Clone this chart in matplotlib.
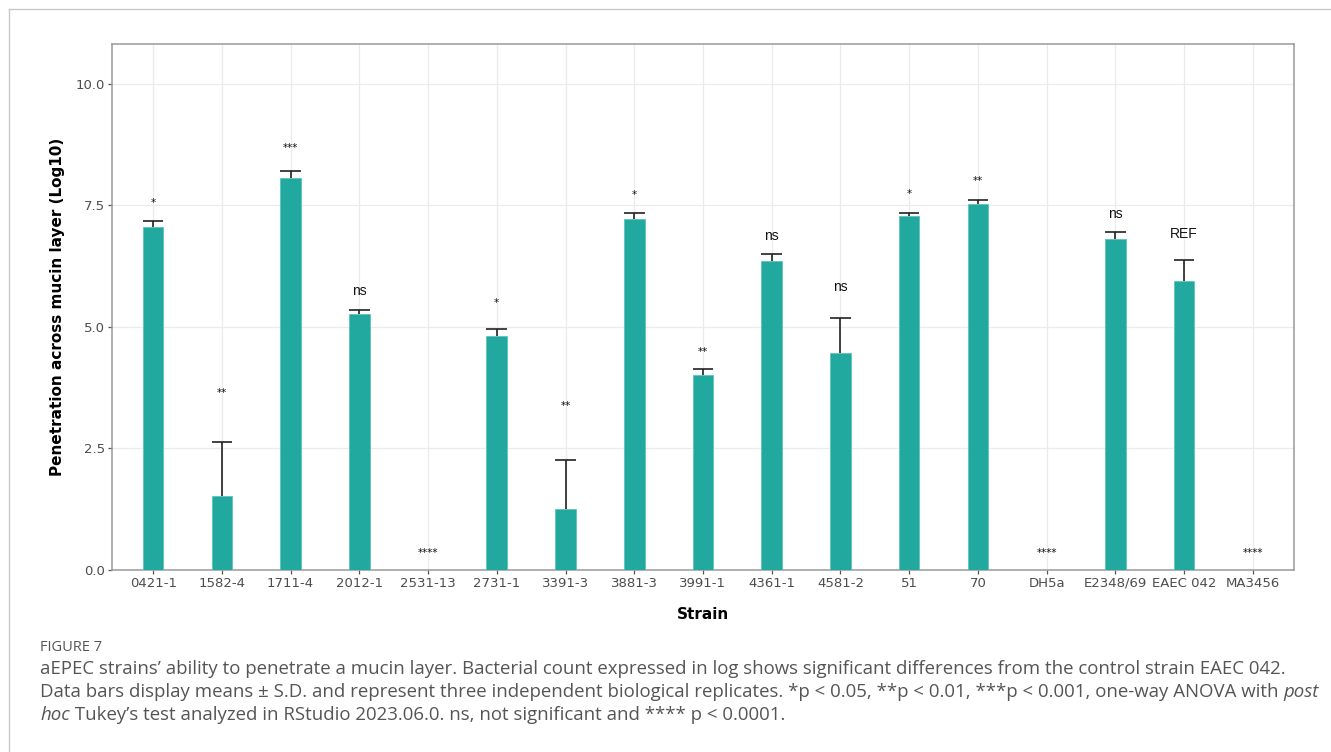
import matplotlib.pyplot as plt
import numpy as np

# Mean penetration (log10) and S.D. per strain
strains = ["0421-1", "1582-4", "1711-4", "2012-1", "2531-13", "2731-1",
           "3391-3", "3881-3", "3991-1", "4361-1", "4581-2", "51", "70",
           "DH5a", "E2348/69", "EAEC 042", "MA3456"]
means = [7.06, 1.52, 8.07, 5.27, 0.0, 4.81, 1.26, 7.22, 4.01, 6.36,
         4.47, 7.28, 7.53, 0.0, 6.81, 5.95, 0.0]
sds = [0.12, 1.11, 0.14, 0.08, 0.0, 0.15, 1.00, 0.13, 0.13, 0.14,
       0.72, 0.07, 0.08, 0.0, 0.14, 0.43, 0.0]
signif = ["*", "**", "***", "ns", "****", "*", "**", "*", "**", "ns",
          "ns", "*", "**", "****", "ns", "REF", "****"]
label_y = [7.55, 3.64, 8.68, 5.74, 0.35, 5.49, 3.37, 7.72, 4.49, 6.87,
           5.82, 7.74, 8.00, 0.35, 7.33, 6.91, 0.35]

caption_title = "FIGURE 7"
caption_lines = [
    "aEPEC strains\u2019 ability to penetrate a mucin layer. Bacterial count expressed in log shows significant differences from the control strain EAEC 042.",
    "Data bars display means \u00b1 S.D. and represent three independent biological replicates. *p < 0.05, **p < 0.01, ***p < 0.001, one-way ANOVA with ",
    " Tukey\u2019s test analyzed in RStudio 2023.06.0. ns, not significant and **** p < 0.0001.",
]

BAR = "#21a99f"
GRID = "#ebebeb"
BAR_W = 0.3

fig = plt.figure(figsize=(13.31, 7.52), dpi=100)
ax = fig.add_axes([0.0841, 0.2420, 0.8881, 0.6995])

x = np.arange(1, len(strains) + 1)
m = np.array(means)
s = np.array(sds)
ax.bar(x, m, width=BAR_W, color=BAR, edgecolor="#5cc4bb", linewidth=0.6, zorder=3)

# upper half of the error bar only: stem plus top cap
has_err = s > 0
ax.vlines(x[has_err], m[has_err], (m + s)[has_err], color="#222222",
          linewidth=1.2, zorder=4)
ax.hlines((m + s)[has_err], x[has_err] - BAR_W / 2, x[has_err] + BAR_W / 2,
          color="#222222", linewidth=1.2, zorder=4)

for xi, lab, ly in zip(x, signif, label_y):
    if "*" in lab:
        ax.text(xi, ly, lab, ha="center", va="center", fontsize=7.5,
                family="DejaVu Sans", color="#111111", zorder=5)
    else:
        ax.text(xi, ly, lab, ha="center", va="center", fontsize=10,
                family="Liberation Sans", color="#111111", zorder=5)

ax.set_xlim(0.4, len(strains) + 0.6)
ax.set_ylim(0, 10.82)
ax.set_xticks(x)
ax.set_xticklabels(strains)
ax.set_yticks([0, 2.5, 5, 7.5, 10])
ax.set_yticklabels(["0.0", "2.5", "5.0", "7.5", "10.0"])
ax.tick_params(axis="both", labelsize=9.5, labelcolor="#4d4d4d",
               color="#555555", length=3, width=0.9, pad=2)

ax.grid(True, color=GRID, linewidth=0.9, zorder=0)
ax.set_axisbelow(True)
for sp in ax.spines.values():
    sp.set_color("#9a9a9a")
    sp.set_linewidth(1.1)

ax.set_xlabel("Strain", fontsize=11, fontweight="bold", labelpad=12)
ax.set_ylabel("Penetration across mucin layer (Log10)", fontsize=11,
              fontweight="bold", labelpad=8)

# page frame lines
fig.add_artist(plt.Line2D([9 / 1331, 1], [1 - 9 / 752, 1 - 9 / 752],
                          color="#c8c8c8", linewidth=1.0))
fig.add_artist(plt.Line2D([9 / 1331, 9 / 1331], [0, 1 - 9 / 752],
                          color="#c8c8c8", linewidth=1.0))

cap_kw = dict(family="Open Sans", color="#555555", fontsize=13.4,
              va="baseline", ha="left")
fig.text(40 / 1331, 1 - 651 / 752, caption_title, family="Open Sans",
         color="#555555", fontsize=10.5, va="baseline", ha="left")
fig.text(40 / 1331, 1 - 674 / 752, caption_lines[0], **cap_kw)
t2 = fig.text(40 / 1331, 1 - 697 / 752, caption_lines[1], **cap_kw)
fig.canvas.draw()
bb = t2.get_window_extent()
fig.text(bb.x1 / fig.bbox.width, 1 - 697 / 752, "post", style="italic", **cap_kw)
t3 = fig.text(40 / 1331, 1 - 720 / 752, "hoc", style="italic", **cap_kw)
fig.canvas.draw()
bb3 = t3.get_window_extent()
fig.text(bb3.x1 / fig.bbox.width, 1 - 720 / 752, caption_lines[2], **cap_kw)

fig.savefig("out.png", dpi=100)
